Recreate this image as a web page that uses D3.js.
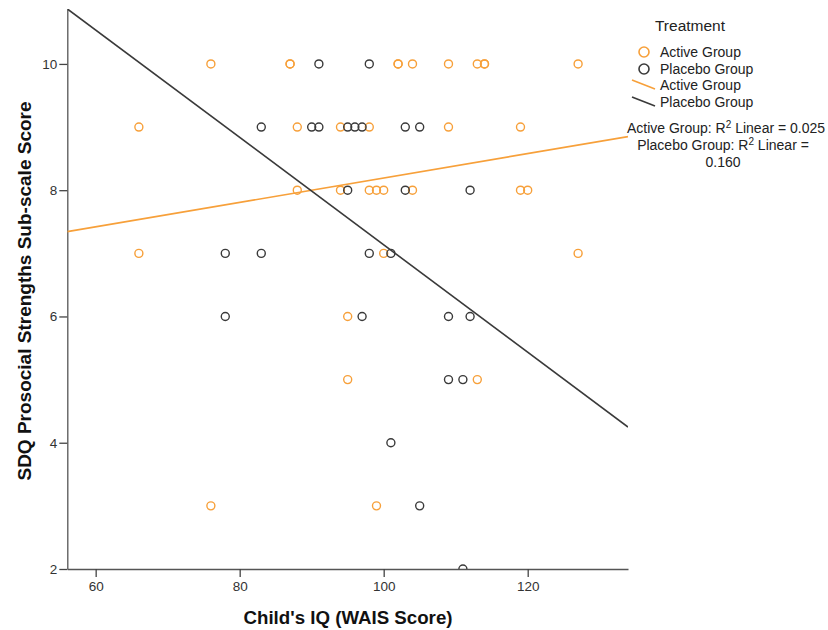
<!DOCTYPE html>
<html>
<head>
<meta charset="utf-8">
<script src="https://cdn.jsdelivr.net/npm/d3@7"></script>
<style>
  body { margin: 0; background: #fff; }
  text { font-family: "Liberation Sans", Arial, sans-serif; }
</style>
</head>
<body>
<div id="chart"></div>
<script>
// Active group (orange) points: IQ and SDQ score
let activeIQ    = [76, 87, 87, 102, 102, 104, 109, 113, 114, 114, 127,
                   66, 88, 94, 98, 109, 119,
                   88, 94, 98, 99, 100, 104, 119, 120,
                   66, 100, 127,
                   95,
                   95, 113,
                   76, 99];
let activeScore = [10, 10, 10, 10, 10, 10, 10, 10, 10, 10, 10,
                   9, 9, 9, 9, 9, 9,
                   8, 8, 8, 8, 8, 8, 8, 8,
                   7, 7, 7,
                   6,
                   5, 5,
                   3, 3];

// Placebo group (black) points
let placeboIQ    = [91, 98,
                    83, 90, 91, 95, 96, 97, 103, 105,
                    95, 103, 112,
                    78, 83, 98, 101,
                    78, 97, 109, 112,
                    109, 111,
                    101,
                    105,
                    111];
let placeboScore = [10, 10,
                    9, 9, 9, 9, 9, 9, 9, 9,
                    8, 8, 8,
                    7, 7, 7, 7,
                    6, 6, 6, 6,
                    5, 5,
                    4,
                    3,
                    2];

// linear fit lines [intercept, slope]
let activeFit  = [6.259, 0.01934];
let placeboFit = [15.64, -0.08505];

let xTicks = [60, 80, 100, 120];
let yTicks = [2, 4, 6, 8, 10];

let svgWidth = 828, svgHeight = 630;
let orange = "#f7a03a", dark = "#3a3a3a";
let plotLeft = 67.3, plotRight = 628, plotTop = 9, plotBottom = 569;

let svg = d3.select('#chart')
  .append('svg')
  .attr('width', svgWidth)
  .attr('height', svgHeight);

let x = d3.scaleLinear().domain([56.06, 133.93]).range([plotLeft, plotRight]);
let y = d3.scaleLinear().domain([2, 10.87]).range([plotBottom, plotTop]);

svg.append('defs').append('clipPath').attr('id', 'clip')
  .append('rect')
  .attr('x', plotLeft).attr('y', plotTop)
  .attr('width', plotRight - plotLeft).attr('height', plotBottom - plotTop);

// axes
let xAxis = svg.append('g')
  .attr('transform', `translate(0,${plotBottom})`)
  .call(d3.axisBottom(x).tickValues(xTicks).tickSize(8).tickPadding(4).tickSizeOuter(0));
let yAxis = svg.append('g')
  .attr('transform', `translate(${plotLeft},0)`)
  .call(d3.axisLeft(y).tickValues(yTicks).tickSize(8).tickPadding(2).tickSizeOuter(0));

[xAxis, yAxis].forEach(function (a) {
  a.select('.domain').attr('stroke', '#555').attr('stroke-width', 1.3);
  a.selectAll('.tick line').attr('stroke', '#444').attr('stroke-width', 1.3);
  a.selectAll('.tick text')
    .attr('fill', '#333')
    .style('font-size', '13.5px')
    .style('font-family', '"Liberation Sans", Arial, sans-serif');
});

// axis titles
svg.append('text')
  .attr('x', 348).attr('y', 624)
  .attr('text-anchor', 'middle')
  .style('font-size', '18.7px').style('font-weight', 'bold')
  .attr('fill', '#111')
  .text("Child's IQ (WAIS Score)");

svg.append('text')
  .attr('transform', 'translate(31,291) rotate(-90)')
  .attr('text-anchor', 'middle')
  .style('font-size', '19px').style('font-weight', 'bold')
  .attr('fill', '#111')
  .text('SDQ Prosocial Strengths Sub-scale Score');

// points
let plot = svg.append('g').attr('clip-path', 'url(#clip)');

function drawPoints(xs, ys, color) {
  plot.append('g').selectAll('circle')
    .data(xs)
    .enter()
    .append('circle')
    .attr('cx', function (d) { return x(d); })
    .attr('cy', function (d, i) { return y(ys[i]); })
    .attr('r', 4)
    .attr('fill', 'none')
    .attr('stroke', color)
    .attr('stroke-width', 1.4);
}
drawPoints(activeIQ, activeScore, orange);
drawPoints(placeboIQ, placeboScore, dark);

// fit lines
function drawFit(fit, color) {
  let xs = x.domain();
  plot.append('line')
    .attr('x1', x(xs[0])).attr('y1', y(fit[0] + fit[1] * xs[0]))
    .attr('x2', x(xs[1])).attr('y2', y(fit[0] + fit[1] * xs[1]))
    .attr('stroke', color)
    .attr('stroke-width', 1.6);
}
drawFit(activeFit, orange);
drawFit(placeboFit, dark);

// legend
let lg = svg.append('g');
lg.append('text').attr('x', 690).attr('y', 31).attr('text-anchor', 'middle')
  .style('font-size', '15.5px').attr('fill', '#222').text('Treatment');

let legendRows = [
  {type: 'circle', color: orange, label: 'Active Group', y: 52},
  {type: 'circle', color: dark, label: 'Placebo Group', y: 69},
  {type: 'line', color: orange, label: 'Active Group', y: 85},
  {type: 'line', color: dark, label: 'Placebo Group', y: 102}
];
legendRows.forEach(function (r) {
  if (r.type === 'circle') {
    lg.append('circle').attr('cx', 644).attr('cy', r.y).attr('r', 5)
      .attr('fill', 'none').attr('stroke', r.color).attr('stroke-width', 1.6);
  } else {
    lg.append('line').attr('x1', 632).attr('y1', r.y - 5).attr('x2', 655).attr('y2', r.y + 4)
      .attr('stroke', r.color).attr('stroke-width', 1.6);
  }
  lg.append('text').attr('x', 660).attr('y', r.y + 5)
    .style('font-size', '14px').attr('fill', '#222').text(r.label);
});

let r2 = lg.append('text').attr('x', 726).attr('y', 133).attr('text-anchor', 'middle')
  .style('font-size', '14px').attr('fill', '#222');
r2.append('tspan').text('Active Group: R');
r2.append('tspan').attr('dy', -5).style('font-size', '10px').text('2');
r2.append('tspan').attr('dy', 5).text(' Linear = 0.025');

let r3 = lg.append('text').attr('x', 723).attr('y', 150).attr('text-anchor', 'middle')
  .style('font-size', '14px').attr('fill', '#222');
r3.append('tspan').text('Placebo Group: R');
r3.append('tspan').attr('dy', -5).style('font-size', '10px').text('2');
r3.append('tspan').attr('dy', 5).text(' Linear =');

lg.append('text').attr('x', 723).attr('y', 167).attr('text-anchor', 'middle')
  .style('font-size', '14px').attr('fill', '#222').text('0.160');
</script>
</body>
</html>
